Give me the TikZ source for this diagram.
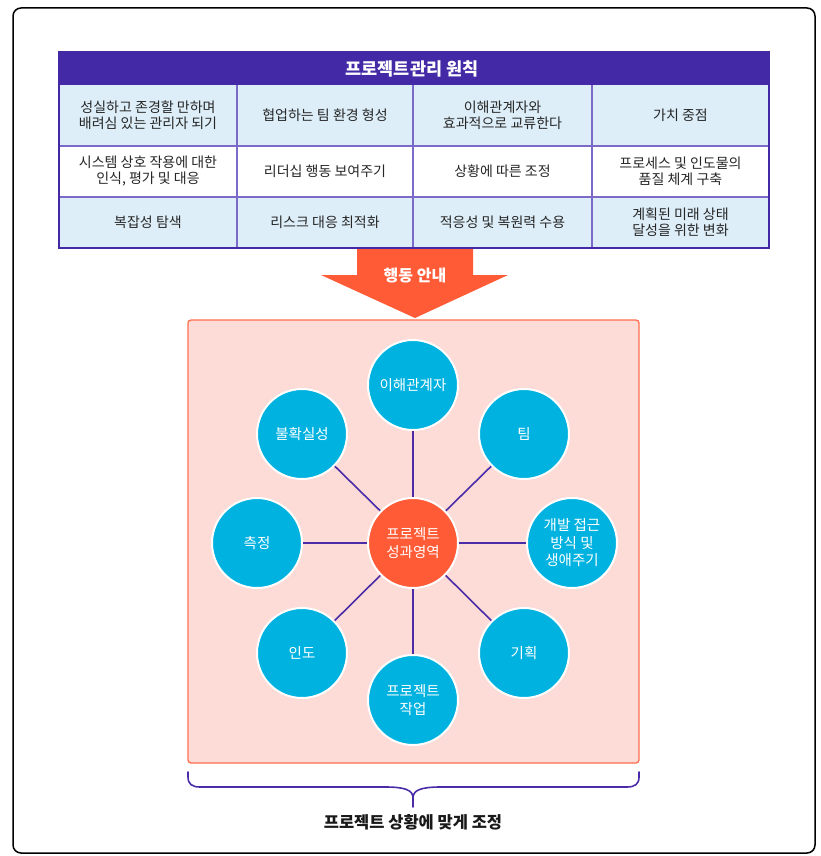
\documentclass[tikz,border=0pt]{standalone}
\usepackage{fontspec}
\setmainfont{Noto Sans CJK KR}
\definecolor{hdr}{HTML}{4329A6}
\definecolor{grid}{HTML}{7C6AC8}
\definecolor{cellblue}{HTML}{DDEEF8}
\definecolor{orng}{HTML}{FF5B36}
\definecolor{pinkbg}{HTML}{FDDBD7}
\definecolor{pinkbd}{HTML}{FF6F4F}
\definecolor{cyanc}{HTML}{00B2E0}
\definecolor{linec}{HTML}{4A2CA8}
\tikzset{
  celltext/.style={align=center,font=\fontsize{14}{16}\selectfont,text=black!85},
  bubble/.style={circle,minimum size=90pt,inner sep=0pt,fill=cyanc,draw=white,line width=2pt,align=center,text=white,font=\fontsize{14.5}{17.5}\selectfont},
  hub/.style={bubble,fill=orng},
  spoke/.style={draw=linec,line width=1.6pt},
}
\begin{document}
\begin{tikzpicture}[x=1pt,y=-1pt]
\useasboundingbox (0,0) rectangle (821,856);
% outer frame
\draw[line width=1.5pt,rounded corners=8pt] (13,8) rectangle (815,853);
% table fills
\fill[hdr] (59,52) rectangle (769,85);
\fill[cellblue] (59,85) rectangle (769,146);
\fill[white] (59,146) rectangle (769,197);
\fill[cellblue] (59,197) rectangle (769,248);
% grid lines
\draw[grid,line width=1.2pt] (59,146) -- (769,146) (59,197) -- (769,197);
\draw[grid,line width=1.2pt] (237,85) -- (237,248) (413,85) -- (413,248) (592,85) -- (592,248);
\draw[hdr,line width=2pt] (59,52) rectangle (769,248);
\node[text=white,font=\fontsize{17.5}{20}\selectfont\bfseries] (title) at (412,68.5) {프로젝트관리 원칙};
% row 1
\node[celltext] (c11) at (148,115.5) {성실하고 존경할 만하며\\배려심 있는 관리자 되기};
\node[celltext] (c12) at (325,115.5) {협업하는 팀 환경 형성};
\node[celltext] (c13) at (502.5,115.5) {이해관계자와\\효과적으로 교류한다};
\node[celltext] (c14) at (680.5,115.5) {가치 중점};
% row 2
\node[celltext] (c21) at (148,171.5) {시스템 상호 작용에 대한\\인식, 평가 및 대응};
\node[celltext] (c22) at (325,171.5) {리더십 행동 보여주기};
\node[celltext] (c23) at (502.5,171.5) {상황에 따른 조정};
\node[celltext] (c24) at (680.5,171.5) {프로세스 및 인도물의\\품질 체계 구축};
% row 3
\node[celltext] (c31) at (148,222.5) {복잡성 탐색};
\node[celltext] (c32) at (325,222.5) {리스크 대응 최적화};
\node[celltext] (c33) at (502.5,222.5) {적응성 및 복원력 수용};
\node[celltext] (c34) at (680.5,222.5) {계획된 미래 상태\\달성을 위한 변화};
% arrow
\fill[orng] (357,249) -- (473,249) -- (473,275) -- (508,275) -- (415,318) -- (321,275) -- (357,275) -- cycle;
\node[text=white,font=\fontsize{16}{19}\selectfont\bfseries] (arrowlbl) at (415,276) {행동 안내};
% pink box
\draw[fill=pinkbg,draw=pinkbd,line width=1.3pt,rounded corners=3pt] (188,320) rectangle (639,763);
% circles
\node[hub] (c) at (413,543) {프로젝트\\성과영역};
\node[bubble] (n1) at (413,385) {이해관계자};
\node[bubble] (n2) at (524,434) {팀};
\node[bubble] (n3) at (572,543) {개발 접근\\방식 및\\생애주기};
\node[bubble] (n4) at (524,653) {기획};
\node[bubble] (n5) at (413,700) {프로젝트\\작업};
\node[bubble] (n6) at (302,653) {인도};
\node[bubble] (n7) at (257,543) {측정};
\node[bubble] (n8) at (302,434) {불확실성};
\foreach \n in {n1,n2,n3,n4,n5,n6,n7,n8}
  \draw[spoke] (c) -- (\n);
% brace
\coordinate (bl) at (188,772);
\coordinate (br) at (639,772);
\coordinate (btip) at (413,807);
\draw[linec,line width=1.6pt,line cap=round]
  (bl) -- (188,777) .. controls (188,784) and (192,787) .. (200,787)
  -- (385,787) .. controls (405,787) and (413,790) .. (413,798) -- (btip);
\draw[linec,line width=1.6pt,line cap=round]
  (br) -- (639,777) .. controls (639,784) and (635,787) .. (627,787)
  -- (441,787) .. controls (421,787) and (413,790) .. (413,798);
\node[font=\fontsize{16.5}{20}\selectfont\bfseries,text=black!90] (blabel) at (413,822) {프로젝트 상황에 맞게 조정};
\end{tikzpicture}
\end{document}
